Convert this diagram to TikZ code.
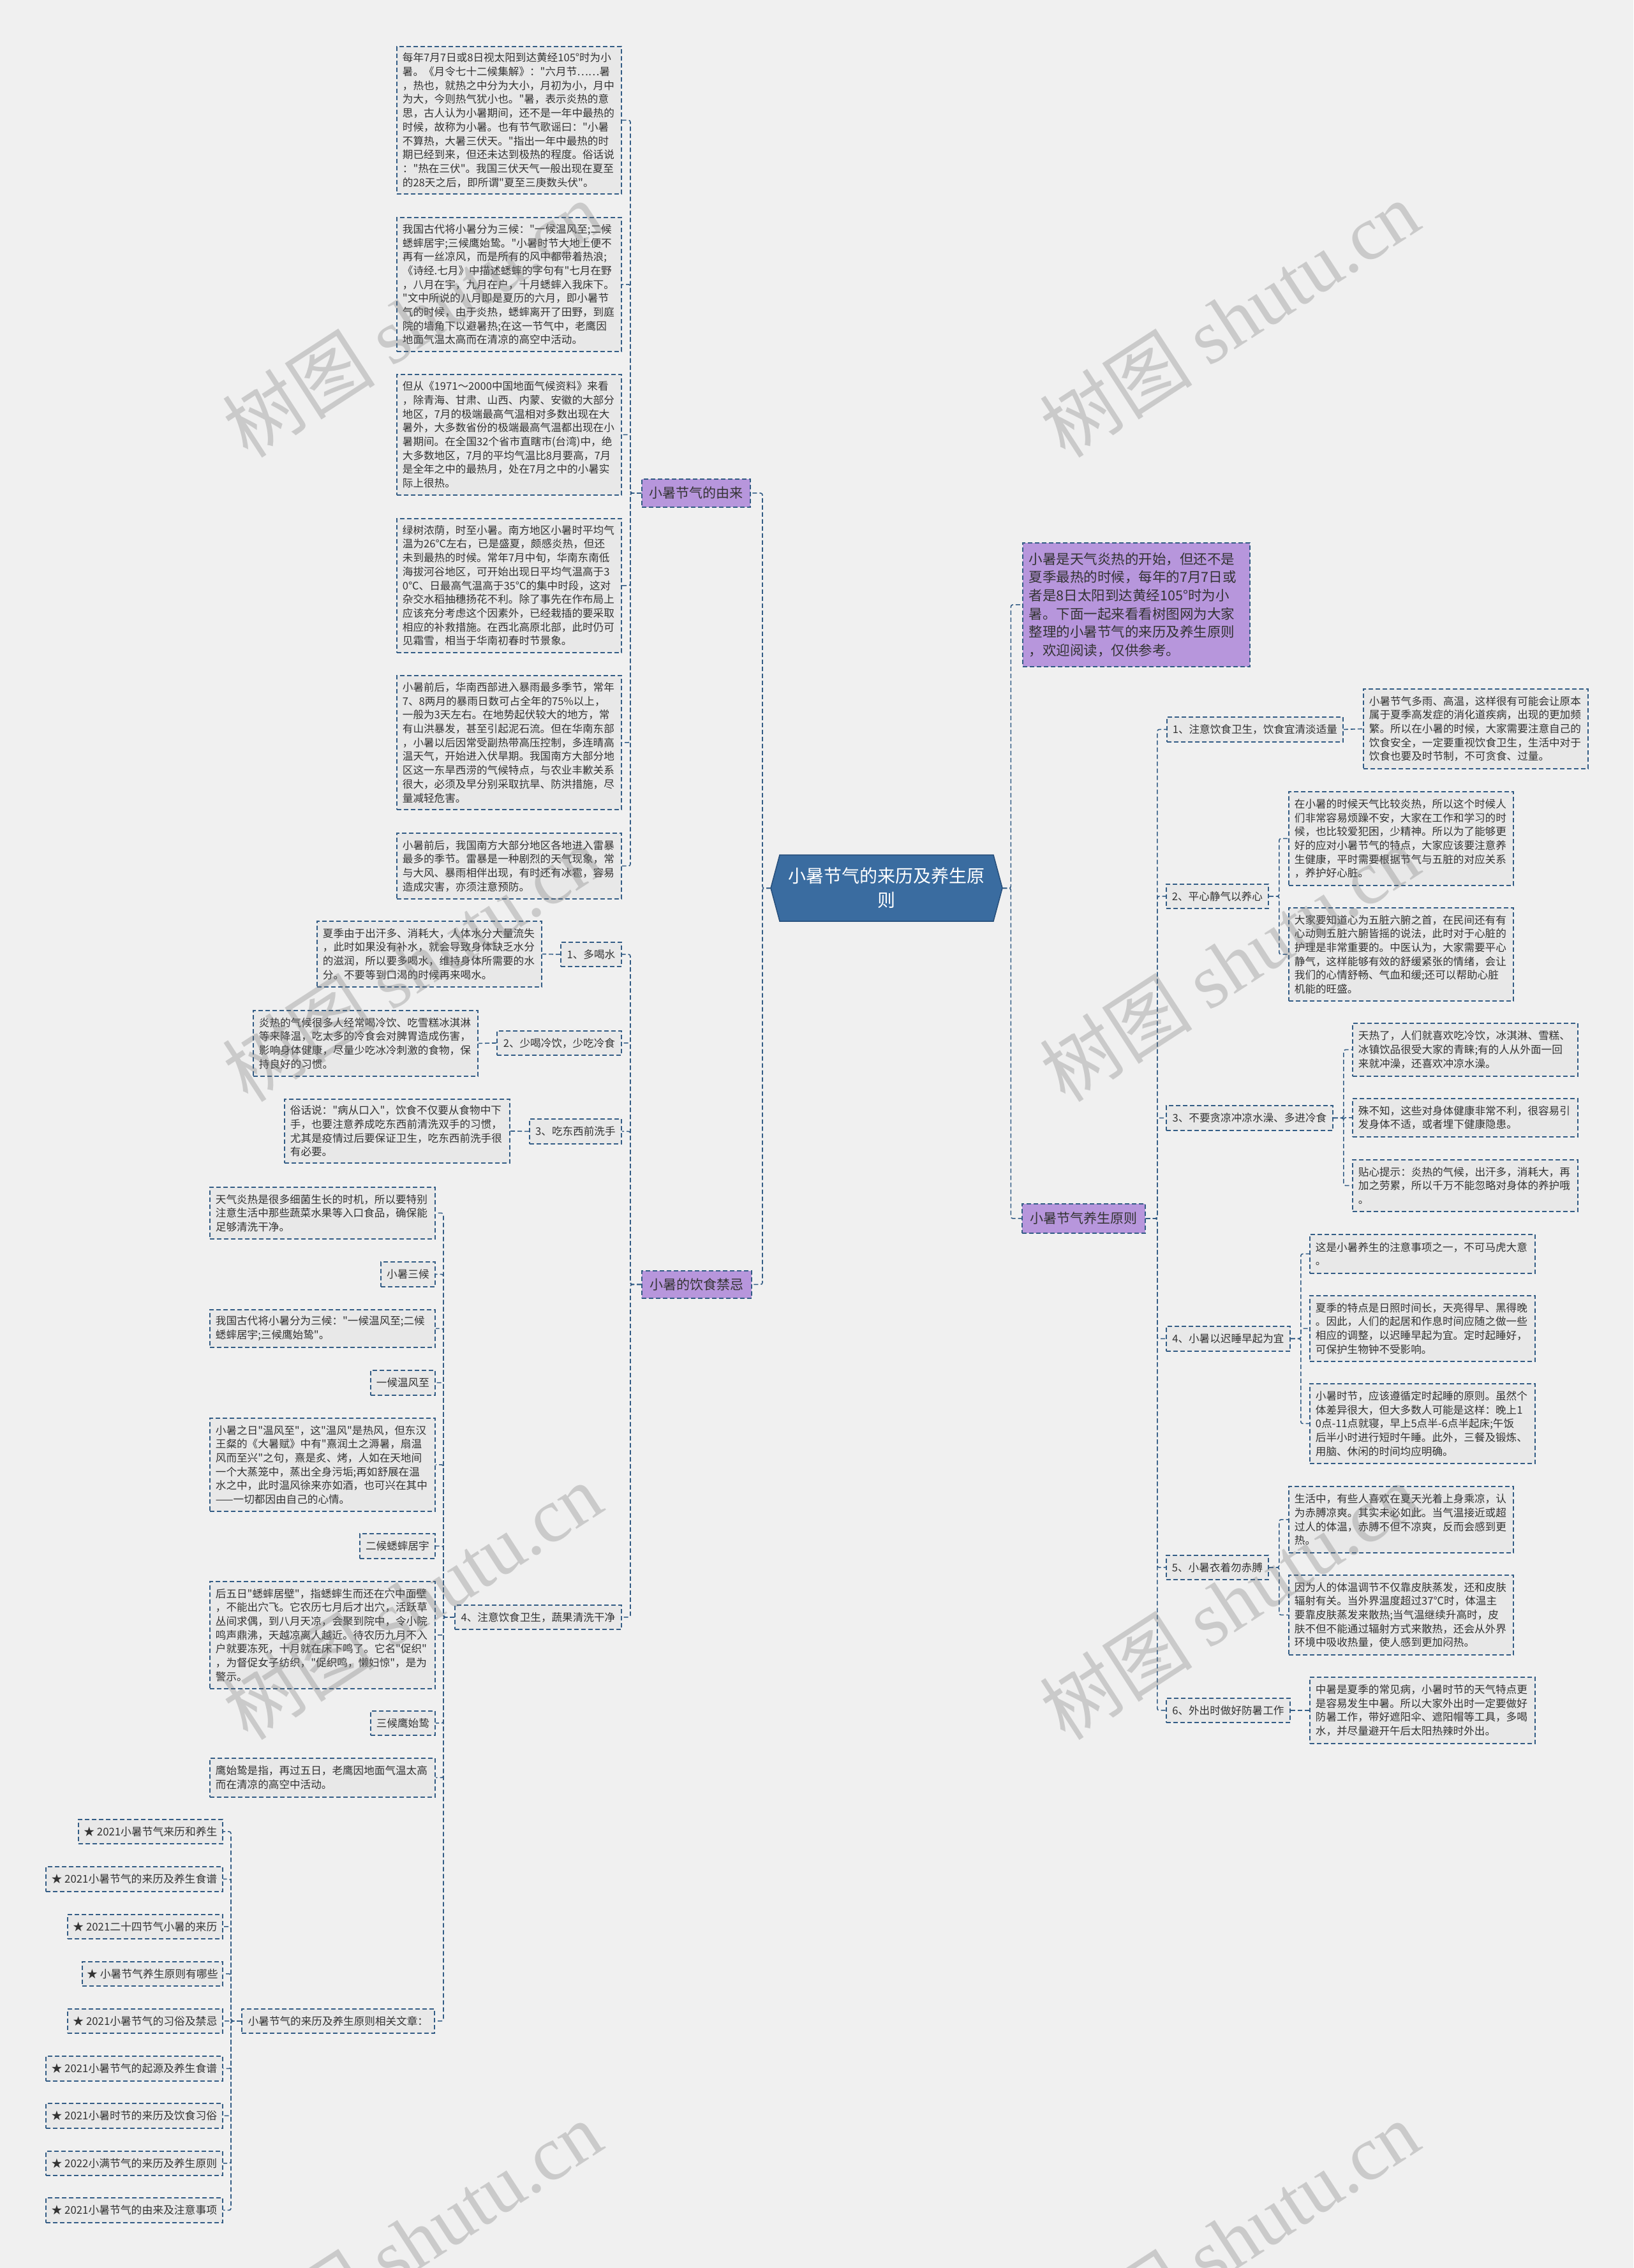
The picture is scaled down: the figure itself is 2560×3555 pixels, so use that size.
\documentclass[tikz,border=0pt]{standalone}
\usepackage{fontspec}
\setmainfont{Noto Sans CJK SC}[Ligatures=TeXOff]
\newfontfamily\wmserif{Liberation Serif}
\definecolor{bgc}{RGB}{240,240,240}
\definecolor{bord}{RGB}{50,92,133}
\definecolor{leafc}{RGB}{232,232,232}
\definecolor{txtc}{RGB}{51,51,51}
\definecolor{purpc}{RGB}{183,150,220}
\definecolor{cfill}{RGB}{58,108,160}
\definecolor{cbord}{RGB}{38,78,122}
\newcommand\leafnode[6]{\node[leafbox,text width=#4pt,minimum height=#5pt] (#1) at (#2,#3) {#6};}
\newcommand\anynode[7]{\node[#2,minimum width=#5pt,minimum height=#6pt] (#1) at (#3,#4) {#7};}
\tikzset{
  leafbox/.style={draw=bord, line width=1.8pt, dash pattern=on 7pt off 4pt, fill=leafc, text=txtc, font=\fontsize{16.6}{21.7}\selectfont, anchor=north west, inner xsep=9pt, inner ysep=0pt, align=left},
  labbox/.style={leafbox, align=center, inner sep=0pt},
  purplab/.style={labbox, fill=purpc, font=\fontsize{21}{26}\selectfont},
  starbox/.style={labbox, font=\fontsize{16.8}{22}\selectfont},
  conn/.style={draw=bord, line width=1.6pt, dash pattern=on 7pt off 4pt, rounded corners=3pt},
  wm/.style={text=black!55, text opacity=0.3, font=\fontsize{120}{120}\selectfont, inner sep=0pt},
}
\begin{document}
\begin{tikzpicture}[x=1pt,y=-1pt]
\fill[bgc] (0,0) rectangle (2560,3555);
\useasboundingbox (0,0) rectangle (2560,3555);

% center
\fill[cfill, draw=cbord, line width=1.5pt] (1208,1392) -- (1222,1340) -- (1557,1340) -- (1571,1392) -- (1557,1444) -- (1222,1444) -- cycle;
\node[anchor=north west, minimum width=363pt, minimum height=104pt, inner sep=0pt, text=white, align=center, font=\fontsize{28}{38}\selectfont] (C) at (1208,1340) {小暑节气的来历及养生原\\则};

% main branches
\anynode{Y}{purplab}{1005}{750}{170}{44}{小暑节气的由来}
\anynode{J}{purplab}{1005}{1991}{172}{43}{小暑的饮食禁忌}
\anynode{P}{purplab}{1601}{1886}{193}{46}{小暑节气养生原则}
\node[leafbox, fill=purpc, font=\fontsize{21.5}{28.7}\selectfont, inner xsep=10pt, text width=336pt, minimum height=194pt] (I) at (1602,850) {小暑是天气炎热的开始，但还不是\\夏季最热的时候，每年的7月7日或\\者是8日太阳到达黄经105°时为小\\暑。下面一起来看看树图网为大家\\整理的小暑节气的来历及养生原则\\，欢迎阅读，仅供参考。};

% origin leaves
\leafnode{L1}{621}{72}{334}{231}{每年7月7日或8日视太阳到达黄经105°时为小\\暑。《月令七十二候集解》："六月节……暑\\，热也，就热之中分为大小，月初为小，月中\\为大，今则热气犹小也。"暑，表示炎热的意\\思，古人认为小暑期间，还不是一年中最热的\\时候，故称为小暑。也有节气歌谣曰："小暑\\不算热，大暑三伏天。"指出一年中最热的时\\期已经到来，但还未达到极热的程度。俗话说\\："热在三伏"。我国三伏天气一般出现在夏至\\的28天之后，即所谓"夏至三庚数头伏"。}
\leafnode{L2}{621}{340}{334}{210}{我国古代将小暑分为三候："一候温风至;二候\\蟋蟀居宇;三候鹰始鸷。"小暑时节大地上便不\\再有一丝凉风，而是所有的风中都带着热浪;\\《诗经.七月》中描述蟋蟀的字句有"七月在野\\，八月在宇，九月在户，十月蟋蟀入我床下。\\"文中所说的八月即是夏历的六月，即小暑节\\气的时候，由于炎热，蟋蟀离开了田野，到庭\\院的墙角下以避暑热;在这一节气中，老鹰因\\地面气温太高而在清凉的高空中活动。}
\leafnode{L3}{621}{586}{334}{189}{但从《1971～2000中国地面气候资料》来看\\，除青海、甘肃、山西、内蒙、安徽的大部分\\地区，7月的极端最高气温相对多数出现在大\\暑外，大多数省份的极端最高气温都出现在小\\暑期间。在全国32个省市直瞎市(台湾)中，绝\\大多数地区，7月的平均气温比8月要高，7月\\是全年之中的最热月，处在7月之中的小暑实\\际上很热。}
\leafnode{L4}{621}{812}{334}{210}{绿树浓荫，时至小暑。南方地区小暑时平均气\\温为26℃左右，已是盛夏，颇感炎热，但还\\未到最热的时候。常年7月中旬，华南东南低\\海拔河谷地区，可开始出现日平均气温高于3\\0℃、日最高气温高于35℃的集中时段，这对\\杂交水稻抽穗扬花不利。除了事先在作布局上\\应该充分考虑这个因素外，已经栽插的要采取\\相应的补救措施。在西北高原北部，此时仍可\\见霜雪，相当于华南初春时节景象。}
\leafnode{L5}{621}{1058}{334}{210}{小暑前后，华南西部进入暴雨最多季节，常年\\7、8两月的暴雨日数可占全年的75\%以上，\\一般为3天左右。在地势起伏较大的地方，常\\有山洪暴发，甚至引起泥石流。但在华南东部\\，小暑以后因常受副热带高压控制，多连晴高\\温天气，开始进入伏旱期。我国南方大部分地\\区这一东旱西涝的气候特点，与农业丰歉关系\\很大，必须及早分别采取抗旱、防洪措施，尽\\量减轻危害。}
\leafnode{L6}{621}{1305}{334}{103}{小暑前后，我国南方大部分地区各地进入雷暴\\最多的季节。雷暴是一种剧烈的天气现象，常\\与大风、暴雨相伴出现，有时还有冰雹，容易\\造成灾害，亦须注意预防。}

% diet
\anynode{D1l}{labbox}{878}{1476}{95}{38}{1、多喝水}
\anynode{D2l}{labbox}{778}{1615}{195}{38}{2、少喝冷饮，少吃冷食}
\anynode{D3l}{labbox}{829}{1753}{144}{39}{3、吃东西前洗手}
\anynode{D4l}{labbox}{712}{2515}{261}{38}{4、注意饮食卫生，蔬果清洗干净}
\leafnode{D1}{496}{1443}{334}{103}{夏季由于出汗多、消耗大，人体水分大量流失\\，此时如果没有补水，就会导致身体缺乏水分\\的滋润，所以要多喝水，维持身体所需要的水\\分。不要等到口渴的时候再来喝水。}
\leafnode{D2}{396}{1583}{334}{103}{炎热的气候很多人经常喝冷饮、吃雪糕冰淇淋\\等来降温，吃太多的冷食会对脾胃造成伤害，\\影响身体健康，尽量少吃冰冷刺激的食物，保\\持良好的习惯。}
\leafnode{D3}{445}{1722}{335}{100}{俗话说："病从口入"，饮食不仅要从食物中下\\手，也要注意养成吃东西前清洗双手的习惯，\\尤其是疫情过后要保证卫生，吃东西前洗手很\\有必要。}

\leafnode{E1}{328}{1860}{335}{81}{天气炎热是很多细菌生长的时机，所以要特别\\注意生活中那些蔬菜水果等入口食品，确保能\\足够清洗干净。}
\anynode{E2}{labbox}{596}{1977}{85}{39}{小暑三候}
\leafnode{E3}{328}{2052}{335}{59}{我国古代将小暑分为三候："一候温风至;二候\\蟋蟀居宇;三候鹰始鸷"。}
\anynode{E4}{labbox}{580}{2147}{101}{39}{一候温风至}
\leafnode{E5}{328}{2222}{335}{146}{小暑之日"温风至"，这"温风"是热风，但东汉\\王粲的《大暑赋》中有"熹润土之溽暑，扇温\\风而至兴"之句，熹是炙、烤，人如在天地间\\一个大蒸笼中，蒸出全身污垢;再如舒展在温\\水之中，此时温风徐来亦如酒，也可兴在其中\\——一切都因由自己的心情。}
\anynode{E6}{labbox}{563}{2403}{118}{39}{二候蟋蟀居宇}
\leafnode{E7}{328}{2478}{335}{168}{后五日"蟋蟀居壁"，指蟋蟀生而还在穴中面壁\\，不能出穴飞。它农历七月后才出穴，活跃草\\丛间求偶，到八月天凉，会聚到院中，令小院\\鸣声鼎沸，天越凉离人越近。待农历九月不入\\户就要冻死，十月就在床下鸣了。它名"促织"\\，为督促女子纺织，"促织鸣，懒妇惊"，是为\\警示。}
\anynode{E8}{labbox}{580}{2681}{101}{38}{三候鹰始鸷}
\leafnode{E9}{328}{2755}{335}{61}{鹰始鸷是指，再过五日，老鹰因地面气温太高\\而在清凉的高空中活动。}
\anynode{RA}{labbox}{378}{3148}{302}{38}{小暑节气的来历及养生原则相关文章：}

\anynode{R1}{starbox}{122}{2851}{226}{38}{★ 2021小暑节气来历和养生}
\anynode{R2}{starbox}{71}{2925}{277}{39}{★ 2021小暑节气的来历及养生食谱}
\anynode{R3}{starbox}{105}{3000}{243}{38}{★ 2021二十四节气小暑的来历}
\anynode{R4}{starbox}{128}{3074}{220}{38}{★ 小暑节气养生原则有哪些}
\anynode{R5}{starbox}{105}{3148}{243}{38}{★ 2021小暑节气的习俗及禁忌}
\anynode{R6}{starbox}{71}{3222}{277}{39}{★ 2021小暑节气的起源及养生食谱}
\anynode{R7}{starbox}{71}{3296}{277}{39}{★ 2021小暑时节的来历及饮食习俗}
\anynode{R8}{starbox}{71}{3371}{277}{38}{★ 2022小满节气的来历及养生原则}
\anynode{R9}{starbox}{71}{3444}{277}{39}{★ 2021小暑节气的由来及注意事项}

% right side
\anynode{I1}{labbox}{1828}{1123}{276}{39}{1、注意饮食卫生，饮食宜清淡适量}
\anynode{I2}{labbox}{1827}{1385}{160}{38}{2、平心静气以养心}
\anynode{I3}{labbox}{1827}{1732}{261}{39}{3、不要贪凉冲凉水澡、多进冷食}
\anynode{I4}{labbox}{1827}{2078}{194}{39}{4、小暑以迟睡早起为宜}
\anynode{I5}{labbox}{1827}{2437}{160}{38}{5、小暑衣着勿赤膊}
\anynode{I6}{labbox}{1827}{2661}{194}{38}{6、外出时做好防暑工作}

\leafnode{N1}{2136}{1079}{334}{125}{小暑节气多雨、高温，这样很有可能会让原本\\属于夏季高发症的消化道疾病，出现的更加频\\繁。所以在小暑的时候，大家需要注意自己的\\饮食安全，一定要重视饮食卫生，生活中对于\\饮食也要及时节制，不可贪食、过量。}
\leafnode{N2a}{2019}{1240}{334}{147}{在小暑的时候天气比较炎热，所以这个时候人\\们非常容易烦躁不安，大家在工作和学习的时\\候，也比较爱犯困，少精神。所以为了能够更\\好的应对小暑节气的特点，大家应该要注意养\\生健康，平时需要根据节气与五脏的对应关系\\，养护好心脏。}
\leafnode{N2b}{2019}{1422}{334}{146}{大家要知道心为五脏六腑之首，在民间还有有\\心动则五脏六腑皆摇的说法，此时对于心脏的\\护理是非常重要的。中医认为，大家需要平心\\静气，这样能够有效的舒缓紧张的情绪，会让\\我们的心情舒畅、气血和缓;还可以帮助心脏\\机能的旺盛。}
\leafnode{N3a}{2119}{1603}{335}{83}{天热了，人们就喜欢吃冷饮，冰淇淋、雪糕、\\冰镇饮品很受大家的青睐;有的人从外面一回\\来就冲澡，还喜欢冲凉水澡。}
\leafnode{N3b}{2119}{1721}{335}{60}{殊不知，这些对身体健康非常不利，很容易引\\发身体不适，或者埋下健康隐患。}
\leafnode{N3c}{2119}{1817}{335}{81}{贴心提示：炎热的气候，出汗多，消耗大，再\\加之劳累，所以千万不能忽略对身体的养护哦\\。}
\leafnode{N4a}{2052}{1934}{335}{61}{这是小暑养生的注意事项之一，不可马虎大意\\。}
\leafnode{N4b}{2052}{2030}{335}{103}{夏季的特点是日照时间长，天亮得早、黑得晚\\。因此，人们的起居和作息时间应随之做一些\\相应的调整，以迟睡早起为宜。定时起睡好，\\可保护生物钟不受影响。}
\leafnode{N4c}{2052}{2168}{335}{125}{小暑时节，应该遵循定时起睡的原则。虽然个\\体差异很大，但大多数人可能是这样：晚上1\\0点-11点就寝，早上5点半-6点半起床;午饭\\后半小时进行短时午睡。此外，三餐及锻炼、\\用脑、休闲的时间均应明确。}
\leafnode{N5a}{2019}{2329}{334}{104}{生活中，有些人喜欢在夏天光着上身乘凉，认\\为赤膊凉爽。其实未必如此。当气温接近或超\\过人的体温，赤膊不但不凉爽，反而会感到更\\热。}
\leafnode{N5b}{2019}{2468}{334}{125}{因为人的体温调节不仅靠皮肤蒸发，还和皮肤\\辐射有关。当外界温度超过37℃时，体温主\\要靠皮肤蒸发来散热;当气温继续升高时，皮\\肤不但不能通过辐射方式来散热，还会从外界\\环境中吸收热量，使人感到更加闷热。}
\leafnode{N6}{2052}{2628}{335}{104}{中暑是夏季的常见病，小暑时节的天气特点更\\是容易发生中暑。所以大家外出时一定要做好\\防暑工作，带好遮阳伞、遮阳帽等工具，多喝\\水，并尽量避开午后太阳热辣时外出。}

% connectors
\draw[conn] (C.west) -- ++(-13,0) |- (Y.east);
\draw[conn] (C.west) -- ++(-13,0) |- (J.east);
\draw[conn] (C.east) -- ++(13,0) |- (I.west);
\draw[conn] (C.east) -- ++(13,0) |- (P.west);
\foreach \n in {L1,L2,L3,L4,L5,L6} \draw[conn] (Y.west) -- ++(-17,0) |- (\n.east);
\foreach \n in {D1l,D2l,D3l,D4l} \draw[conn] (J.west) -- ++(-17,0) |- (\n.east);
\draw[conn] (D1l.west) -- (D1.east);
\draw[conn] (D2l.west) -- (D2.east);
\draw[conn] (D3l.west) -- (D3.east);
\foreach \n in {E1,E2,E3,E4,E5,E6,E7,E8,E9,RA} \draw[conn] (D4l.west) -- ++(-17,0) |- (\n.east);
\foreach \n in {R1,R2,R3,R4,R5,R6,R7,R8,R9} \draw[conn] (RA.west) -- ++(-16,0) |- (\n.east);
\foreach \n in {I1,I2,I3,I4,I5,I6} \draw[conn] (P.east) -- ++(18,0) |- (\n.west);
\draw[conn] (I1.east) -- (N1.west);
\foreach \n in {N2a,N2b} \draw[conn] (I2.east) -- ++(16,0) |- (\n.west);
\foreach \n in {N3a,N3b,N3c} \draw[conn] (I3.east) -- ++(16,0) |- (\n.west);
\foreach \n in {N4a,N4b,N4c} \draw[conn] (I4.east) -- ++(16,0) |- (\n.west);
\foreach \n in {N5a,N5b} \draw[conn] (I5.east) -- ++(16,0) |- (\n.west);
\draw[conn] (I6.east) -- (N6.west);

% watermark
\foreach \wx/\wy [count=\k] in {646/500, 1927/500, 646/1510, 1927/1510, 646/2510, 1927/2510, 646/3510, 1927/3510}
  \node[wm, rotate=33] (wm\k) at (\wx,\wy) {树图 {\wmserif shutu.cn}};
\end{tikzpicture}
\end{document}
